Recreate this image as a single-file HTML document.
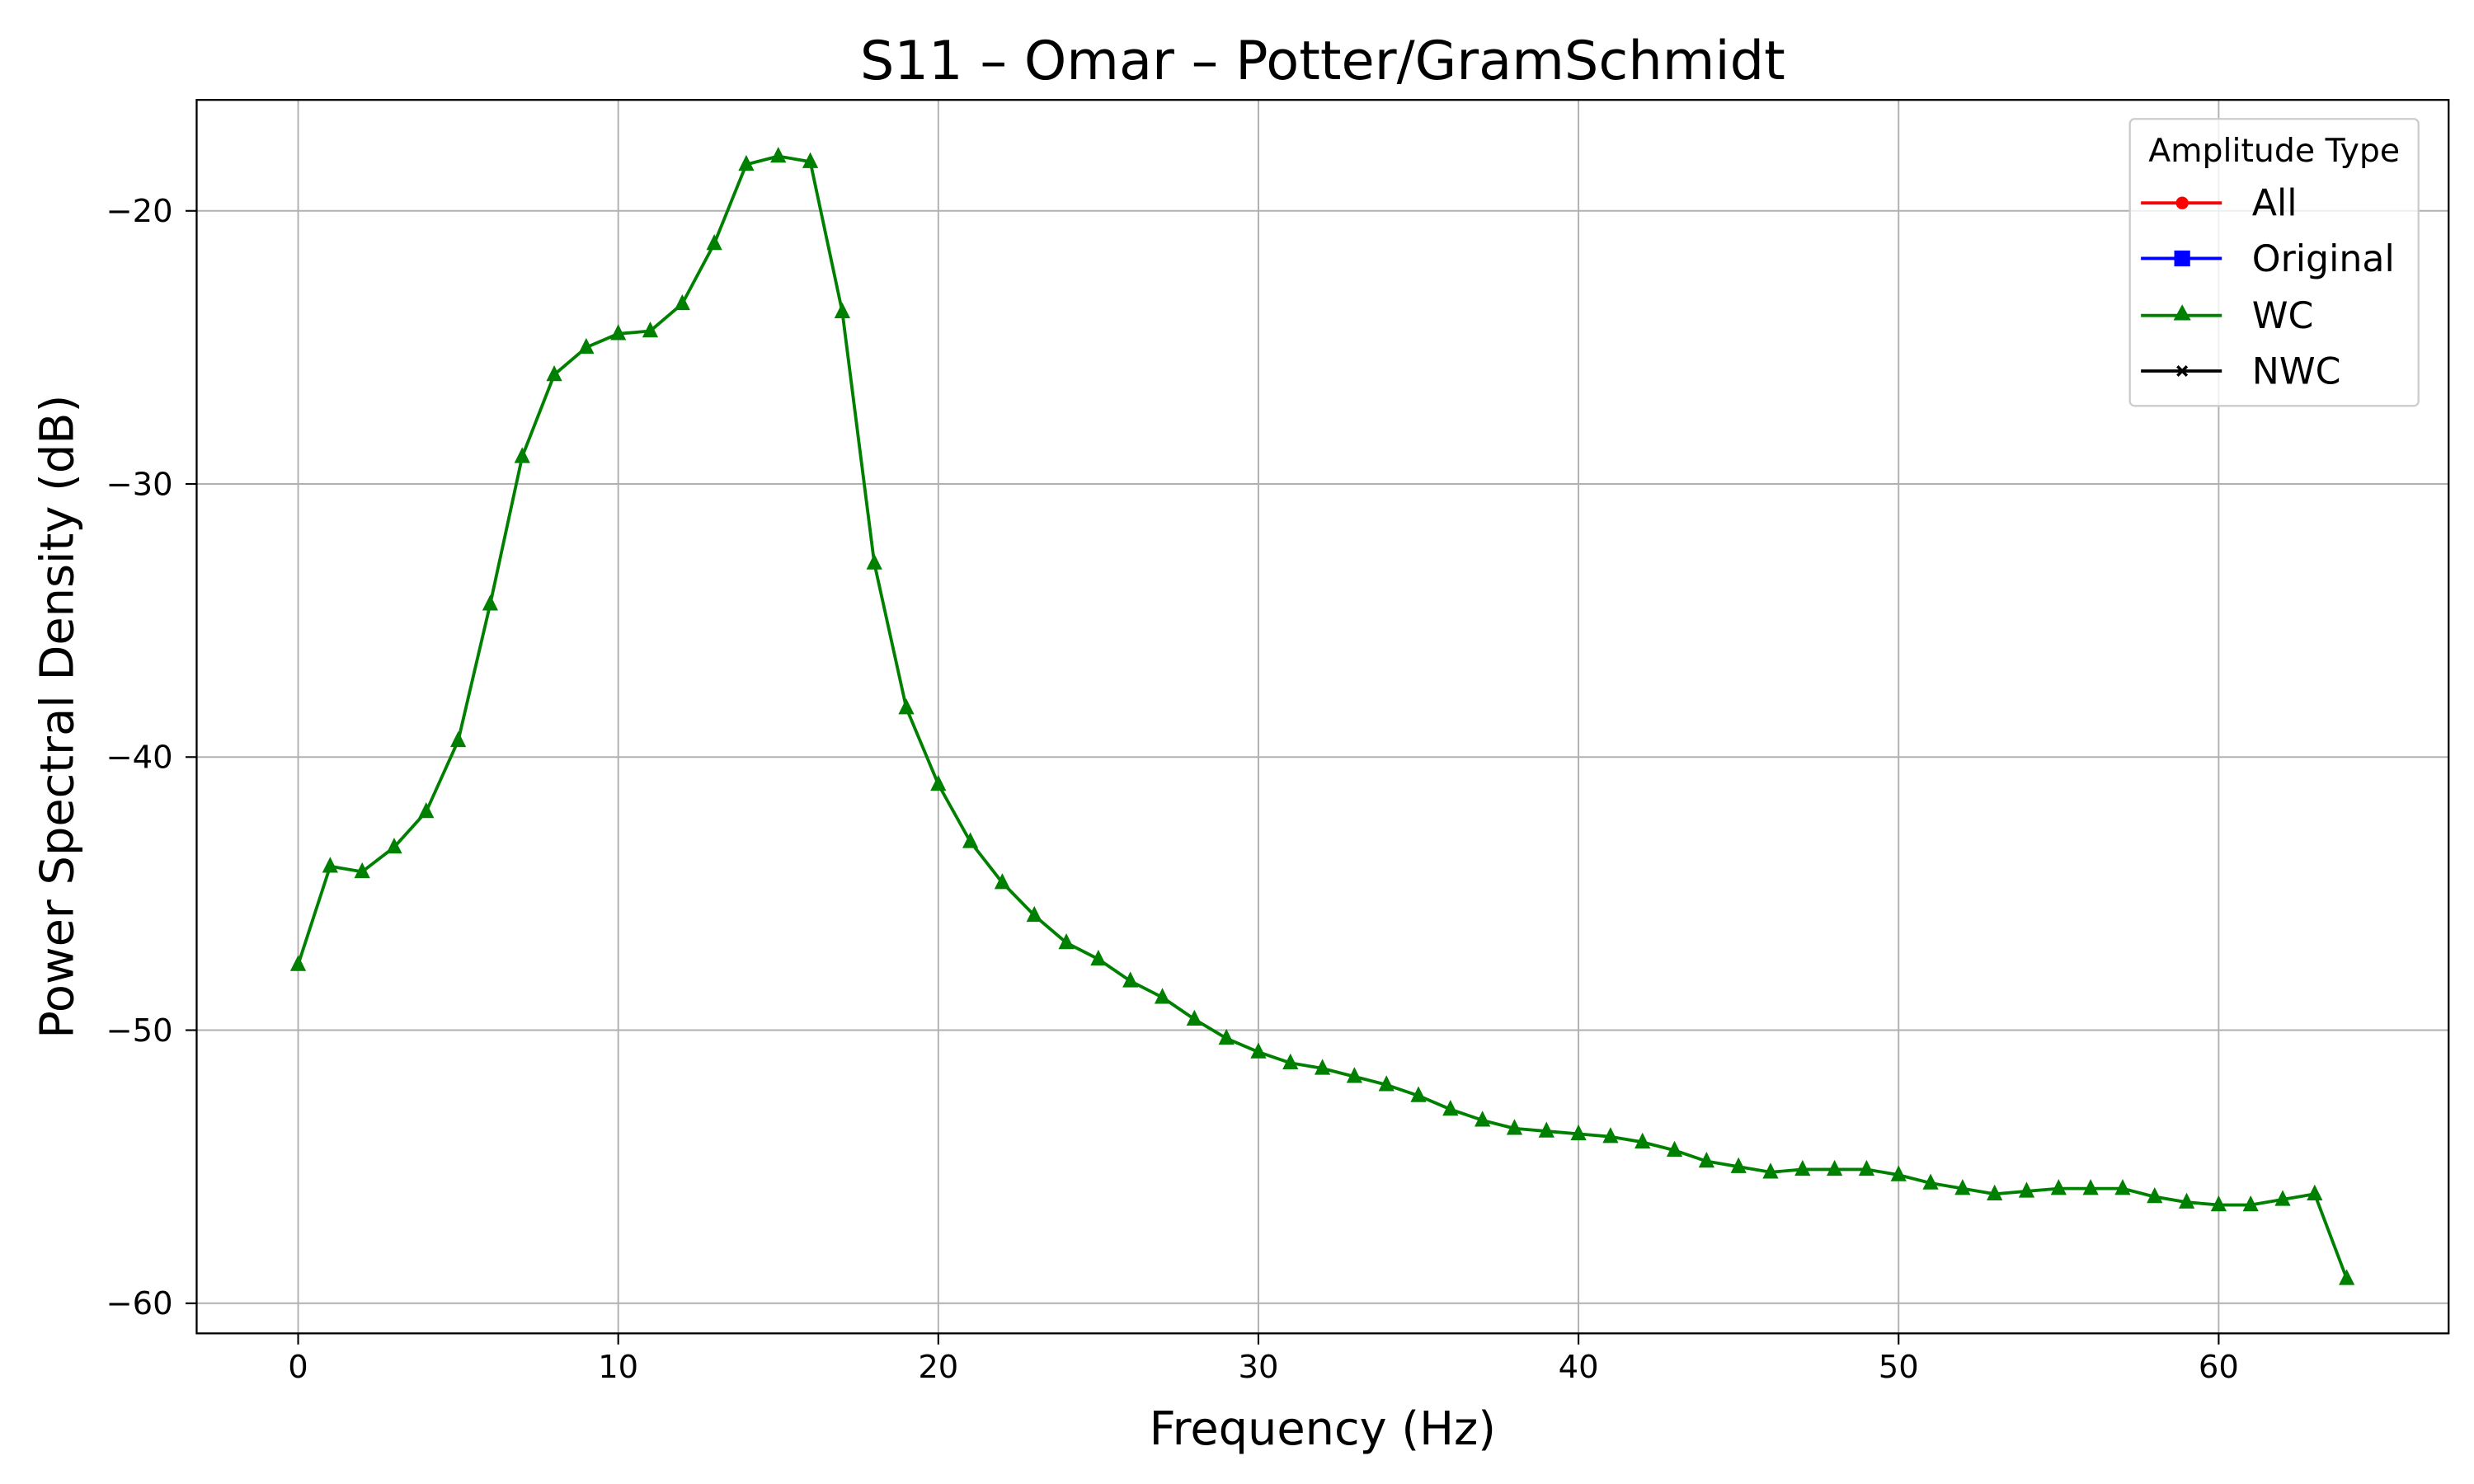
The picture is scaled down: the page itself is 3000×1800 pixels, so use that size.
<!DOCTYPE html>
<html><head><meta charset="utf-8"><style>
html,body{margin:0;padding:0;background:#fff}
svg{display:block;font-family:"DejaVu Sans","Liberation Sans",sans-serif}
</style></head><body>
<svg id="chart" width="3000" height="1800" viewBox="0 0 1560 936" xmlns="http://www.w3.org/2000/svg">
<rect width="1560" height="936" fill="#fff"/>
<text x="834" y="50" font-size="34" text-anchor="middle">S11 – Omar – Potter/GramSchmidt</text>
<g id="grid"></g>
<g id="ticks"></g>
<g id="series"></g>
<rect x="124" y="63" width="1420" height="778" fill="none" stroke="#000" stroke-width="1.2"/>
<text x="834" y="911" font-size="29" text-anchor="middle">Frequency (Hz)</text>
<text transform="translate(46,452) rotate(-90)" font-size="29" text-anchor="middle">Power Spectral Density (dB)</text>
<g>
<rect x="1343" y="75" width="182" height="181" rx="3" fill="#fff" fill-opacity="0.8" stroke="#ccc" stroke-width="1.2"/>
<text x="1434" y="102" font-size="20.5" text-anchor="middle">Amplitude Type</text>
<g><line x1="1350" y1="128" x2="1401" y2="128" stroke="red" stroke-width="2"/><circle cx="1376" cy="128" r="4" fill="red"/><text x="1420" y="136" font-size="23">All</text></g>
<g><line x1="1350" y1="163" x2="1401" y2="163" stroke="blue" stroke-width="2"/><rect x="1371" y="158" width="10" height="10" fill="blue"/><text x="1420" y="171" font-size="23">Original</text></g>
<g><line x1="1350" y1="199" x2="1401" y2="199" stroke="green" stroke-width="2"/><polygon points="1376,192 1381.5,202 1370.5,202" fill="green"/><text x="1420" y="207" font-size="23">WC</text></g>
<g><line x1="1350" y1="234" x2="1401" y2="234" stroke="#000" stroke-width="2"/><path d="M1373,231 L1379,237 M1379,231 L1373,237" stroke="#000" stroke-width="1.8"/><text x="1420" y="242" font-size="23">NWC</text></g>
</g>
</svg>
<script>
const freqs = Array.from({length:65},(_, i)=>i);
const wcValues = [-47.6,-44.0,-44.2,-43.3,-42.0,-39.4,-34.4,-29.0,-26.0,-25.0,-24.5,-24.4,-23.4,-21.2,-18.3,-18.0,-18.2,-23.7,-32.9,-38.2,-41.0,-43.1,-44.6,-45.8,-46.8,-47.4,-48.2,-48.8,-49.6,-50.3,-50.8,-51.2,-51.4,-51.7,-52.0,-52.4,-52.9,-53.3,-53.6,-53.7,-53.8,-53.9,-54.1,-54.4,-54.8,-55.0,-55.2,-55.1,-55.1,-55.1,-55.3,-55.6,-55.8,-56.0,-55.9,-55.8,-55.8,-55.8,-56.1,-56.3,-56.4,-56.4,-56.2,-56.0,-59.1];
const xTicks = [0,10,20,30,40,50,60];
const yTicks = [-20,-30,-40,-50,-60];
const NS='http://www.w3.org/2000/svg';
function xs(v){return 188+(v-0)*(1399-188)/60;}
function ys(v){return 133+(-20-v)*(822-133)/40;}
function mk(tag,attrs,parent){const e=document.createElementNS(NS,tag);for(const k in attrs)e.setAttribute(k,attrs[k]);parent.appendChild(e);return e;}
const grid=document.getElementById('grid'),ticks=document.getElementById('ticks'),series=document.getElementById('series');
xTicks.forEach(t=>{
  const x=xs(t);
  const g=mk('line',{x1:x,y1:63,x2:x,y2:841,stroke:'#b0b0b0','stroke-width':1},grid);
  
  
  mk('line',{x1:x,y1:841,x2:x,y2:848,stroke:'#000','stroke-width':1.1},ticks);
  const l=mk('text',{x:x,y:869,'font-size':20,'text-anchor':'middle'},ticks);
  l.textContent=t;
  
  
});
yTicks.forEach(t=>{
  const y=ys(t);
  const g=mk('line',{x1:124,y1:y,x2:1544,y2:y,stroke:'#b0b0b0','stroke-width':1},grid);
  
  
  mk('line',{x1:117,y1:y,x2:124,y2:y,stroke:'#000','stroke-width':1.1},ticks);
  const l=mk('text',{x:109,y:y+7,'font-size':20,'text-anchor':'end'},ticks);
  l.textContent='\u2212'+Math.abs(t);
  
  
});
const pts=freqs.map((f,i)=>xs(f).toFixed(2)+','+ys(wcValues[i]).toFixed(2)).join(' ');
const line=mk('polyline',{points:pts,fill:'none',stroke:'green','stroke-width':2,'stroke-linejoin':'round'},series);


freqs.forEach((f,i)=>{
  const x=xs(f),y=ys(wcValues[i]);
  const m=mk('polygon',{points:`${x},${y-6} ${x+5},${y+4} ${x-5},${y+4}`,fill:'green'},series);
  
  
});
</script>
</body></html>
